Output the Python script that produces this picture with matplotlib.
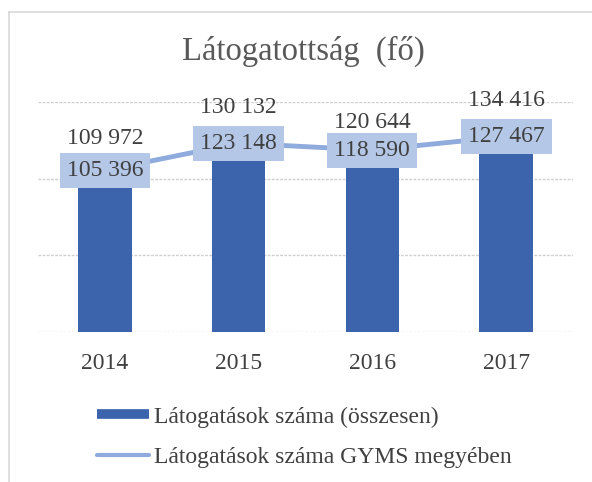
import matplotlib.pyplot as plt
from matplotlib.lines import Line2D

plt.rcParams['font.family'] = ['Liberation Serif', 'DejaVu Serif']

# Látogatottság adatai
years = ['2014', '2015', '2016', '2017']
total_visits = [109972, 130132, 120644, 134416]
county_visits = [105396, 123148, 118590, 127467]

bar_color = '#3B64AD'
line_color = '#8FAADC'
box_color = '#B4C7E7'
text_color = '#404040'
grid_color = '#CFCFCF'


def fmt(v):
    return f'{v:,}'.replace(',', ' ')


W, H = 592, 482
fig = plt.figure(figsize=(W / 100, H / 100), dpi=100)
ax = fig.add_axes([38 / W, 150 / H, 535 / W, 230 / H])

x = list(range(len(years)))
ax.bar(x, total_visits, width=0.4, color=bar_color, zorder=2)
ax.plot(x, county_visits, color=line_color, lw=3.5, zorder=3)

# oszlopok feliratai
for xi, v in zip(x, total_visits):
    ax.annotate(fmt(v), (xi, v), xytext=(0, 18), textcoords='offset points',
                ha='center', va='center', fontsize=17, color=text_color, zorder=5)

# vonal feliratai dobozban
for xi, v in zip(x, county_visits):
    ax.text(xi, v, fmt(v), ha='center', va='center', fontsize=17,
            color=text_color, zorder=4,
            bbox=dict(boxstyle='square,pad=0.3', fc=box_color, ec='none'))

ax.set_xlim(-0.5, 3.5)
ax.set_ylim(0, 150000)
ax.set_yticks([0, 50000, 100000, 150000])
ax.set_yticklabels([])
ax.set_xticks(x)
ax.set_xticklabels(years, fontsize=17, color=text_color)
ax.tick_params(axis='both', length=0)
ax.tick_params(axis='x', pad=15)
ax.grid(axis='y', color=grid_color, linestyle=(0, (2, 1)), lw=1, zorder=0)
for s in ax.spines.values():
    s.set_visible(False)

fig.text(303 / W, 1 - 51 / H, 'Látogatottság  (fő)', ha='center', va='center',
         fontsize=23.5, color='#595959')

handles = [
    Line2D([], [], color=bar_color, lw=7, solid_capstyle='butt'),
    Line2D([], [], color=line_color, lw=3, solid_capstyle='round'),
]
labels = ['Látogatások száma (összesen)', 'Látogatások száma GYMS megyében']
fig.legend(handles, labels, loc='center left', bbox_to_anchor=(97 / W, 1 - 437 / H),
           frameon=False, fontsize=17, handlelength=2.2, handletextpad=0.2,
           labelspacing=0.8, borderpad=0, borderaxespad=0, labelcolor=text_color)

# keret
fig.add_artist(Line2D([9 / W, 9 / W], [0, 1 - 12 / H], color='#D9D9D9', lw=1.2))
fig.add_artist(Line2D([9 / W, 1], [1 - 12 / H, 1 - 12 / H], color='#D9D9D9', lw=1.2))

fig.savefig('out.png', dpi=100)
